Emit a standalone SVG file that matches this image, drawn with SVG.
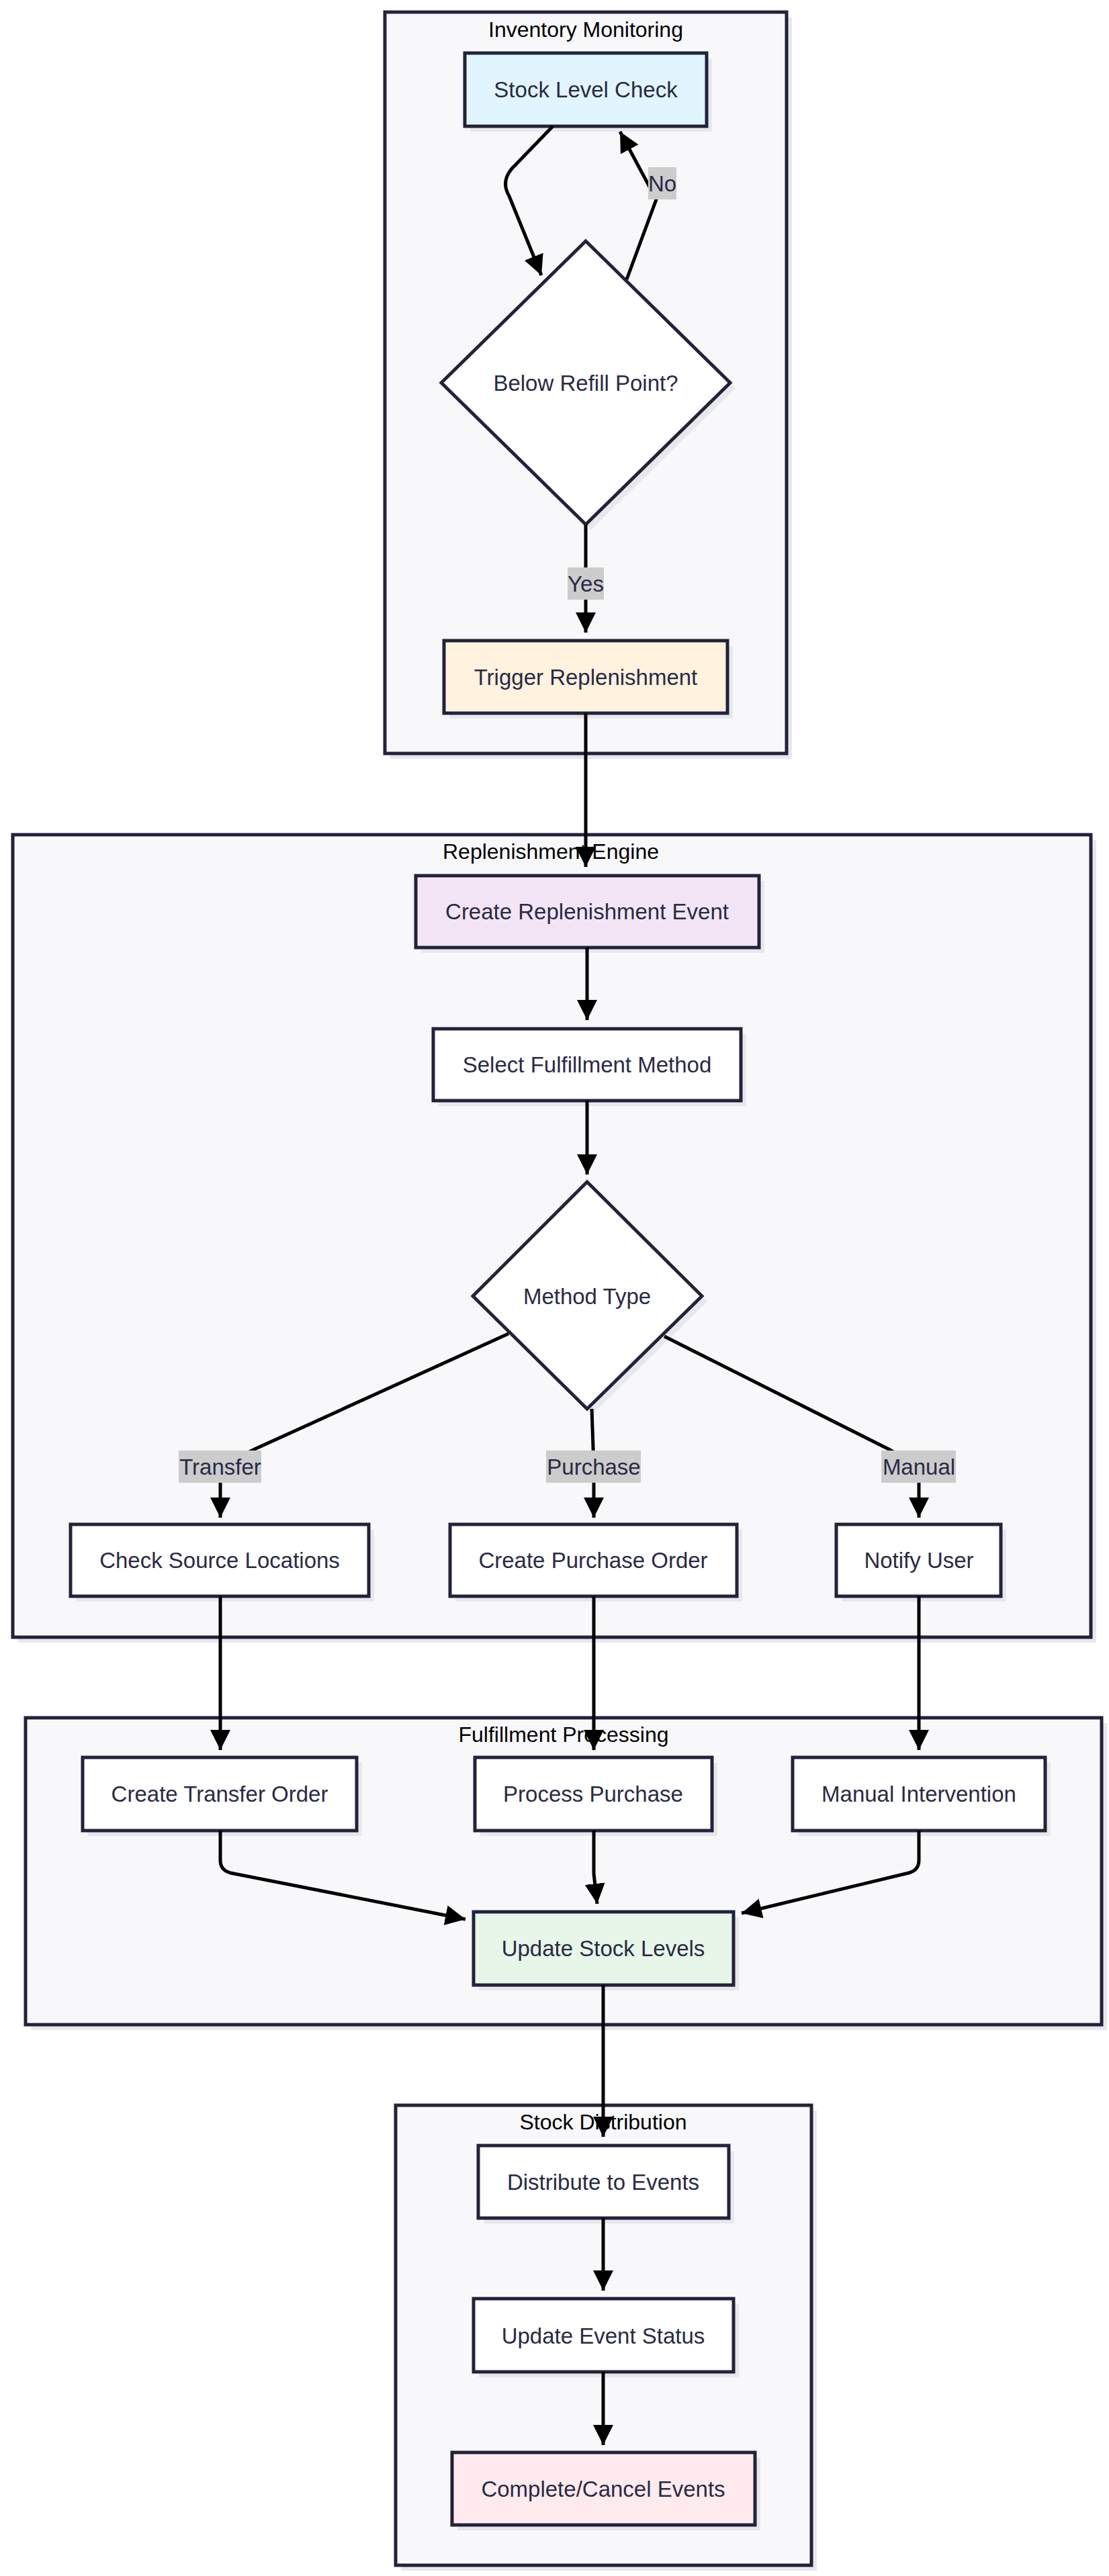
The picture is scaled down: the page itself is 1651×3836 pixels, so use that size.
<svg xmlns="http://www.w3.org/2000/svg" width="1651" height="3836" viewBox="0 0 1651 3836">
<style>
.cl{fill:#f8f8fb;stroke:#22223a;stroke-width:5}
.sh{fill:#e7e7ee}
.nd{stroke:#22223a;stroke-width:5}
.t{font-family:"Liberation Sans",Arial,sans-serif;font-size:33px;fill:#2a2a44;text-anchor:middle;dominant-baseline:central}
.ct{font-family:"Liberation Sans",Arial,sans-serif;font-size:32px;fill:#000;text-anchor:middle;dominant-baseline:central}
.e{fill:none;stroke:#000;stroke-width:5}
.lb{fill:#cccccc}
</style>
<defs>
<marker id="a" markerUnits="userSpaceOnUse" markerWidth="32" markerHeight="30" refX="30" refY="15" orient="auto">
<path d="M0,0 L30,15 L0,30 Z" fill="#000"/>
</marker>
</defs>
<g id="clusters">
<rect class="sh" x="581" y="26" width="598" height="1104"/>
<rect class="cl" x="573" y="18" width="598" height="1104"/>
<text class="ct" x="872" y="44">Inventory Monitoring</text>
<rect class="sh" x="27" y="1251" width="1605" height="1195"/>
<rect class="cl" x="19" y="1243" width="1605" height="1195"/>
<text class="ct" x="820" y="1268">Replenishment Engine</text>
<rect class="sh" x="46" y="2566" width="1602" height="457"/>
<rect class="cl" x="38" y="2558" width="1602" height="457"/>
<text class="ct" x="839" y="2583">Fulfillment Processing</text>
<rect class="sh" x="597" y="3143" width="619" height="685"/>
<rect class="cl" x="589" y="3135" width="619" height="685"/>
<text class="ct" x="898" y="3160">Stock Distribution</text>
</g>
<g id="n1"><rect class="sh" x="700" y="87" width="360" height="109"/><rect class="nd" fill="#e1f5fe" x="692" y="79" width="360" height="109"/><text class="t" x="872" y="133">Stock Level Check</text></g>
<g id="n2"><polygon class="sh" points="880,367 1095,578 880,789 665,578"/><polygon class="nd" fill="#fff" points="872,359 1087,570 872,781 657,570"/><text class="t" x="872" y="570">Below Refill Point?</text></g>
<g id="n3"><rect class="sh" x="669" y="962" width="422" height="108"/><rect class="nd" fill="#fff3e0" x="661" y="954" width="422" height="108"/><text class="t" x="872" y="1008">Trigger Replenishment</text></g>
<g id="n4"><rect class="sh" x="627" y="1312" width="511" height="107"/><rect class="nd" fill="#f3e5f5" x="619" y="1304" width="511" height="107"/><text class="t" x="874" y="1357">Create Replenishment Event</text></g>
<g id="n5"><rect class="sh" x="653" y="1540" width="458" height="107"/><rect class="nd" fill="#fff" x="645" y="1532" width="458" height="107"/><text class="t" x="874" y="1585">Select Fulfillment Method</text></g>
<g id="n6"><polygon class="sh" points="882,1768 1053,1938 882,2106 712,1938"/><polygon class="nd" fill="#fff" points="874,1760 1045,1930 874,2098 704,1930"/><text class="t" x="874" y="1930">Method Type</text></g>
<g id="n7"><rect class="sh" x="113" y="2278" width="444" height="107"/><rect class="nd" fill="#fff" x="105" y="2270" width="444" height="107"/><text class="t" x="327" y="2323">Check Source Locations</text></g>
<g id="n8"><rect class="sh" x="678" y="2278" width="427" height="107"/><rect class="nd" fill="#fff" x="670" y="2270" width="427" height="107"/><text class="t" x="883" y="2323">Create Purchase Order</text></g>
<g id="n9"><rect class="sh" x="1253" y="2278" width="245" height="107"/><rect class="nd" fill="#fff" x="1245" y="2270" width="245" height="107"/><text class="t" x="1368" y="2323">Notify User</text></g>
<g id="n10"><rect class="sh" x="131" y="2625" width="408" height="109"/><rect class="nd" fill="#fff" x="123" y="2617" width="408" height="109"/><text class="t" x="327" y="2671">Create Transfer Order</text></g>
<g id="n11"><rect class="sh" x="715" y="2625" width="353" height="109"/><rect class="nd" fill="#fff" x="707" y="2617" width="353" height="109"/><text class="t" x="883" y="2671">Process Purchase</text></g>
<g id="n12"><rect class="sh" x="1188" y="2625" width="376" height="109"/><rect class="nd" fill="#fff" x="1180" y="2617" width="376" height="109"/><text class="t" x="1368" y="2671">Manual Intervention</text></g>
<g id="n13"><rect class="sh" x="713" y="2855" width="387" height="109"/><rect class="nd" fill="#e8f5e9" x="705" y="2847" width="387" height="109"/><text class="t" x="898" y="2901">Update Stock Levels</text></g>
<g id="n14"><rect class="sh" x="720" y="3203" width="373" height="108"/><rect class="nd" fill="#fff" x="712" y="3195" width="373" height="108"/><text class="t" x="898" y="3249">Distribute to Events</text></g>
<g id="n15"><rect class="sh" x="713" y="3431" width="387" height="109"/><rect class="nd" fill="#fff" x="705" y="3423" width="387" height="109"/><text class="t" x="898" y="3478">Update Event Status</text></g>
<g id="n16"><rect class="sh" x="681" y="3660" width="451" height="108"/><rect class="nd" fill="#ffebee" x="673" y="3652" width="451" height="108"/><text class="t" x="898" y="3706">Complete/Cancel Events</text></g>
<g id="edges">
<path class="e" marker-end="url(#a)" d="M823,188 L763,250 Q745,270 758,292 L806,410"/>
<path class="e" marker-end="url(#a)" d="M933,416 L977,297 L923,196"/>
<path class="e" marker-end="url(#a)" d="M872,781 L872,942"/>
<path class="e" marker-end="url(#a)" d="M872,1062 L872,1291"/>
<path class="e" marker-end="url(#a)" d="M874,1411 L874,1519"/>
<path class="e" marker-end="url(#a)" d="M874,1639 L874,1749"/>
<path class="e" marker-end="url(#a)" d="M757,1986 L379,2158 L328,2184 L328,2260"/>
<path class="e" marker-end="url(#a)" d="M881,2098 L884,2184 L884,2260"/>
<path class="e" marker-end="url(#a)" d="M989,1990 L1323,2158 L1368,2184 L1368,2260"/>
<path class="e" marker-end="url(#a)" d="M328,2377 L328,2606"/>
<path class="e" marker-end="url(#a)" d="M884,2377 L884,2606"/>
<path class="e" marker-end="url(#a)" d="M1368,2377 L1368,2606"/>
<path class="e" marker-end="url(#a)" d="M328,2726 L328,2770 Q328,2785 343,2789 L693,2858"/>
<path class="e" marker-end="url(#a)" d="M884,2726 L884,2790 L889,2835"/>
<path class="e" marker-end="url(#a)" d="M1368,2726 L1368,2770 Q1368,2785 1353,2789 L1104,2849"/>
<path class="e" marker-end="url(#a)" d="M898,2956 L898,3182"/>
<path class="e" marker-end="url(#a)" d="M898,3303 L898,3411"/>
<path class="e" marker-end="url(#a)" d="M898,3532 L898,3641"/>
<rect class="lb" x="965" y="249" width="42" height="48"/><text class="t" x="986" y="273">No</text>
<rect class="lb" x="845" y="845" width="54" height="48"/><text class="t" x="872" y="869">Yes</text>
<rect class="lb" x="266" y="2160" width="123" height="48"/><text class="t" x="328" y="2184">Transfer</text>
<rect class="lb" x="813" y="2160" width="141" height="48"/><text class="t" x="884" y="2184">Purchase</text>
<rect class="lb" x="1312" y="2160" width="111" height="48"/><text class="t" x="1368" y="2184">Manual</text>
</g>
</svg>
